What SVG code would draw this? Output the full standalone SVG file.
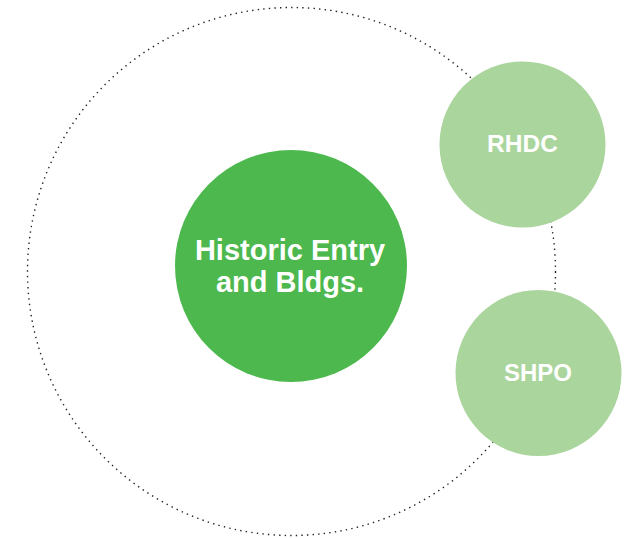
<svg xmlns="http://www.w3.org/2000/svg" width="641" height="538" viewBox="0 0 641 538">
<style>
.ring{fill:none;stroke:#222;stroke-width:1.4;stroke-dasharray:1.4 4.2;stroke-linecap:butt}
.main{fill:#4cb84d}
.sub{fill:#aad59d}
.lbl{font-family:"Liberation Sans",Arial,sans-serif;font-weight:bold;fill:#fff;text-anchor:middle}
</style>
<rect width="641" height="538" fill="#fff"/>
<g id="connectors">
<circle class="ring" cx="291.5" cy="271.5" r="264"/>
</g>
<g id="historic">
<circle class="main" cx="291" cy="266" r="116"/>
<text class="lbl" x="290" y="260" font-size="29">Historic Entry</text>
<text class="lbl" x="290" y="292" font-size="29">and Bldgs.</text>
</g>
<g id="rhdc">
<circle class="sub" cx="522.5" cy="144.5" r="83"/>
<text class="lbl" x="522.5" y="151.5" font-size="24.5">RHDC</text>
</g>
<g id="shpo">
<circle class="sub" cx="538.5" cy="373" r="83"/>
<text class="lbl" x="538" y="380.5" font-size="24">SHPO</text>
</g>
</svg>
